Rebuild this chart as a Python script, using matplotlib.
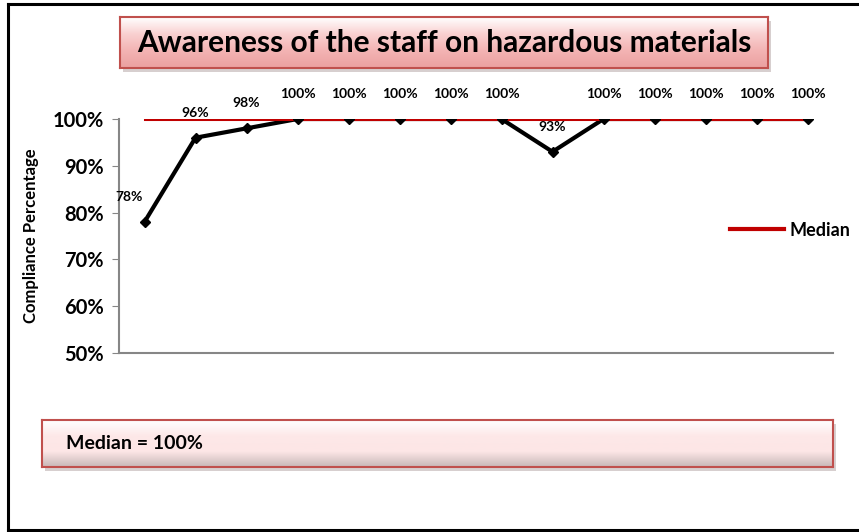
import matplotlib
matplotlib.use("Agg")
import matplotlib.pyplot as plt
import numpy as np
from matplotlib.colors import LinearSegmentedColormap
from matplotlib.lines import Line2D

# data
values = [78, 96, 98, 100, 100, 100, 100, 100, 93, 100, 100, 100, 100, 100]
median_value = 100
title = "Awareness of the staff on hazardous materials"
y_label = "Compliance Percentage"
yticks = [50, 60, 70, 80, 90, 100]

plt.rcParams['font.family'] = ['Lato', 'DejaVu Sans']

W, H = 859, 532
fig = plt.figure(figsize=(W / 100, H / 100), dpi=100)


def fx(px):
    return px / W


def fy(py):
    return 1 - py / H


def draw_box(x0, y0, x1, y1, colors, text, size, ha, tx):
    # drop shadow
    sh = fig.add_axes([fx(x0 + 3), fy(y1 + 4), fx(x1 - x0), (y1 - y0) / H])
    sh.set_facecolor('#b0a0a0')
    sh.patch.set_alpha(0.5)
    sh.set_xticks([])
    sh.set_yticks([])
    for s in sh.spines.values():
        s.set_visible(False)
    bx = fig.add_axes([fx(x0), fy(y1), fx(x1 - x0), (y1 - y0) / H])
    cmap = LinearSegmentedColormap.from_list('box', colors)
    grad = np.linspace(0, 1, 100).reshape(-1, 1)
    bx.imshow(grad, aspect='auto', cmap=cmap, extent=[0, 1, 0, 1], origin='upper')
    bx.set_xlim(0, 1)
    bx.set_ylim(0, 1)
    bx.set_xticks([])
    bx.set_yticks([])
    for s in bx.spines.values():
        s.set_color('#c0504d')
        s.set_linewidth(1.5)
    bx.text(tx, 0.5, text, fontsize=size, fontweight='bold', ha=ha, va='center',
            transform=bx.transAxes)


# outer frame (left, top, bottom)
for xs, ys in [([fx(8), fx(8)], [fy(4), fy(530)]),
               ([fx(8), 1.0], [fy(4), fy(4)]),
               ([fx(8), 1.0], [fy(530), fy(530)])]:
    fig.add_artist(Line2D(xs, ys, color='black', lw=2.2, transform=fig.transFigure))

ax = fig.add_axes([fx(119), fy(353), fx(833 - 119), (353 - 119) / H])
x = np.arange(len(values))

ax.plot(x, values, color='black', lw=3, zorder=3, solid_joinstyle='miter')
ax.plot(x, [median_value] * len(values), color='#c00000', lw=2.2, zorder=4, label='Median')
ax.plot(x, values, linestyle='none', marker='D', ms=5, color='black', zorder=5)

for i, v in enumerate(values):
    dx = -11 if i == 0 else 0
    ax.annotate(f"{v}%", (i, v), xytext=(dx, 18), textcoords='offset points',
                ha='center', va='center', fontsize=10, fontweight='bold',
                annotation_clip=False)

ax.set_xlim(-0.5, len(values) - 0.5)
ax.set_ylim(50, 100)
ax.set_yticks(yticks)
ax.set_yticklabels([f"{t}%" for t in yticks], fontsize=14.5, fontweight='bold')
ax.set_xticks([])
ax.tick_params(axis='y', length=5, color='#868686', pad=6)
for s in ['top', 'right']:
    ax.spines[s].set_visible(False)
for s in ['left', 'bottom']:
    ax.spines[s].set_color('#868686')
    ax.spines[s].set_linewidth(1.5)
ax.set_ylabel(y_label, fontsize=12, fontweight='bold', labelpad=10)

leg = ax.legend(loc='center left', bbox_to_anchor=(fx(714), fy(230)),
                bbox_transform=fig.transFigure, frameon=False, handlelength=3.0,
                handletextpad=0.3, prop={'weight': 'bold', 'size': 13})
for h in leg.get_lines():
    h.set_linewidth(3)

draw_box(120, 17, 768, 68, ['#ffffff', '#f9d0d0', '#f3b3b3', '#eba0a0'],
         title, 21.5, 'center', 0.5)
draw_box(42, 420, 833, 467, ['#ffffff', '#fde8e8', '#fde6e6', '#c8b8b8'],
         "Median = 100%", 14, 'left', 0.03)

fig.savefig('out.png', dpi=100)
